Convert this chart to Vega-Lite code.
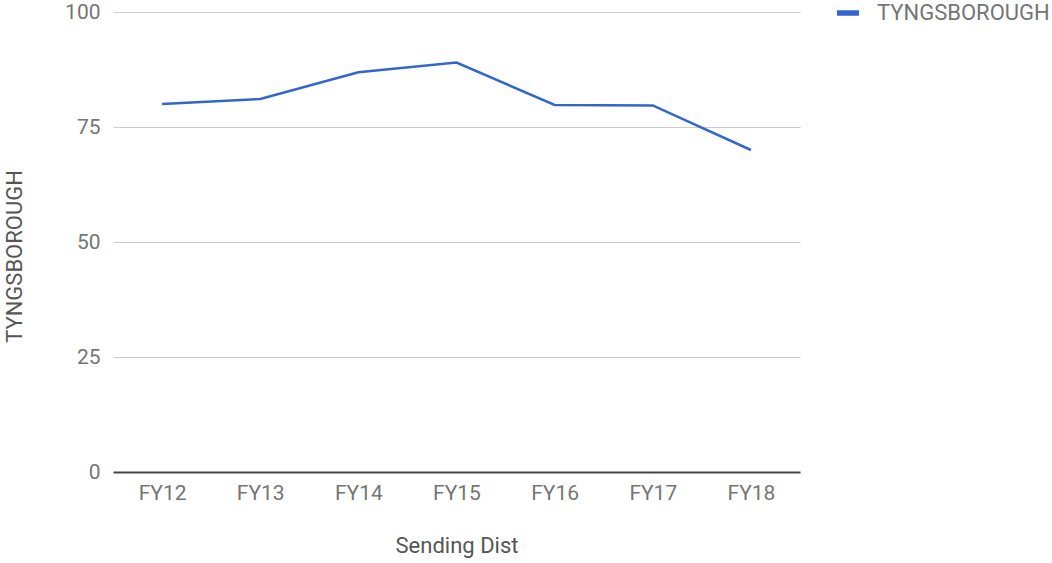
{
  "$schema": "https://vega.github.io/schema/vega-lite/v6.json",
  "autosize": "none",
  "width": 687,
  "height": 460,
  "padding": {"left": 113, "top": 12, "right": 252, "bottom": 91},
  "background": "white",
  "config": {
    "view": {"stroke": null},
    "font": "Roboto",
    "axis": {"labelFont": "Roboto", "titleFont": "Roboto", "labelColor": "#757575", "titleColor": "#555555", "titleFontWeight": "normal"}
  },
  "data": {
    "values": [
      {"year": "FY12", "district": "TYNGSBOROUGH", "value": 80.0},
      {"year": "FY13", "district": "TYNGSBOROUGH", "value": 81.1},
      {"year": "FY14", "district": "TYNGSBOROUGH", "value": 86.9},
      {"year": "FY15", "district": "TYNGSBOROUGH", "value": 89.0},
      {"year": "FY16", "district": "TYNGSBOROUGH", "value": 79.8},
      {"year": "FY17", "district": "TYNGSBOROUGH", "value": 79.7},
      {"year": "FY18", "district": "TYNGSBOROUGH", "value": 70.0}
    ]
  },
  "layer": [
    {
      "mark": {"type": "line", "strokeWidth": 2.5},
      "encoding": {
        "x": {
          "field": "year", "type": "ordinal", "title": "Sending Dist",
          "scale": {"type": "point", "padding": 0.5},
          "axis": {"labelAngle": 0, "domainColor": "#444444", "domainWidth": 2, "ticks": false, "labelPadding": 10, "labelFontSize": 21, "titleFontSize": 22, "titlePadding": 32, "grid": false}
        },
        "y": {
          "field": "value", "type": "quantitative", "title": "TYNGSBOROUGH",
          "scale": {"domain": [0, 100], "nice": false},
          "axis": {"values": [0, 25, 50, 75, 100], "domain": false, "ticks": false, "labelPadding": 13, "labelFontSize": 21, "titleFontSize": 22, "gridColor": "#cccccc", "gridWidth": 1.2, "titleX": -99, "titleY": 244, "titleBaseline": "middle"}
        },
        "color": {
          "field": "district", "type": "nominal", "title": null,
          "scale": {"range": ["#3366cc"]},
          "legend": {
            "orient": "none", "legendX": 724, "legendY": -10, "padding": 0,
            "symbolType": "M-1,-0.25H1V0.25H-1Z", "symbolSize": 484,
            "symbolStrokeWidth": 0, "symbolFillColor": "#3366cc",
            "labelFont": "Roboto", "labelFontSize": 22, "labelColor": "#757575", "labelOffset": 18, "labelLimit": 400,
            "encode": {"symbols": {"update": {"fill": {"value": "#3366cc"}, "strokeWidth": {"value": 0}}}}
          }
        }
      }
    }
  ]
}
